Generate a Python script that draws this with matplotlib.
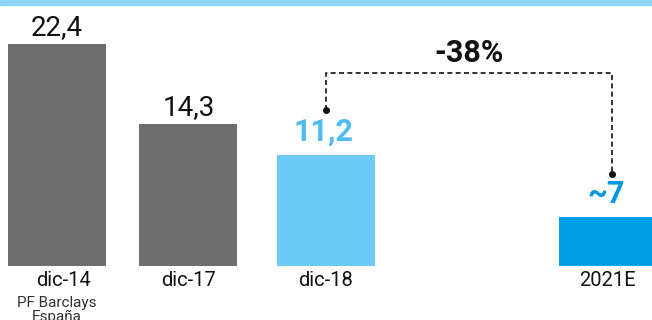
import matplotlib
matplotlib.use("Agg")
import matplotlib.pyplot as plt
from matplotlib import font_manager

# data
categories = ["dic-14", "dic-17", "dic-18", "2021E"]
sub_labels = ["PF Barclays\nEspaña", "", "", ""]
bar_heights = [22.4, 14.3, 11.2, 4.9]
value_labels = ["22,4", "14,3", "11,2", "~7"]
x_pos = [0.0, 1.34, 2.74, 5.62]
change_label = "-38%"

bar_colors = ["#6e6e6e", "#6e6e6e", "#6dc9f5", "#009ee3"]
label_colors = ["#111111", "#111111", "#4dbdf0", "#0099e0"]
label_bold = [False, False, True, True]

names = {f.name for f in font_manager.fontManager.ttflist}
narrow = "Liberation Sans Narrow" if "Liberation Sans Narrow" in names else "Roboto"

fig = plt.figure(figsize=(6.52, 3.2), dpi=100)
# top band
fig.add_artist(plt.Rectangle((0, 1 - 5 / 320), 1, 5 / 320, transform=fig.transFigure,
                             color="#8dd5f7", zorder=0))

ax = fig.add_axes([0, 54 / 320, 1, 266 / 320])
ax.set_xlim(-57 / 98, (652 - 57) / 98)
ax.set_ylim(0, 266 / 9.91)
ax.axis("off")

ax.bar(x_pos, bar_heights, width=1.0, color=bar_colors, clip_on=False)

# value labels above bars
for x, h, lab, c, b in zip(x_pos, bar_heights, value_labels, label_colors, label_bold):
    if b:
        ax.text(x - 0.02, h + 2.35, lab, ha="center", va="center", color=c, fontsize=22,
                fontweight="bold", family="Roboto")
    else:
        ax.text(x, h + 1.65, lab, ha="center", va="center", color=c, fontsize=20,
                family=narrow)

# category labels below
for x, cat, sub in zip(x_pos, categories, sub_labels):
    ax.text(x + (0.07 if sub else 0), -1.5, cat, ha="center", va="center",
            fontsize=14.5, family="Roboto", color="#111111", clip_on=False)
    if sub:
        ax.text(x, -4.4, sub, ha="center", va="center", fontsize=11,
                family="Roboto", color="#333333", linespacing=1.0, clip_on=False)

# dashed bracket between dic-18 and 2021E
x1, x2 = x_pos[2], x_pos[3] + 0.04
y1 = bar_heights[2] + 4.5
y2 = bar_heights[3] + 4.38
ytop = y1 + 3.78
ax.plot([x1, x1, x2, x2], [y1, ytop, ytop, y2], ls=(0, (3, 2)), color="#111111", lw=1.2)
ax.plot([x1, x2], [y1, y2], "o", color="#111111", ms=4)
ax.text((x1 + x2) / 2, ytop + 2.0, change_label, ha="center", va="center",
        fontsize=22, fontweight="bold", family="Roboto", color="#111111")

fig.savefig("out.png", dpi=100)
